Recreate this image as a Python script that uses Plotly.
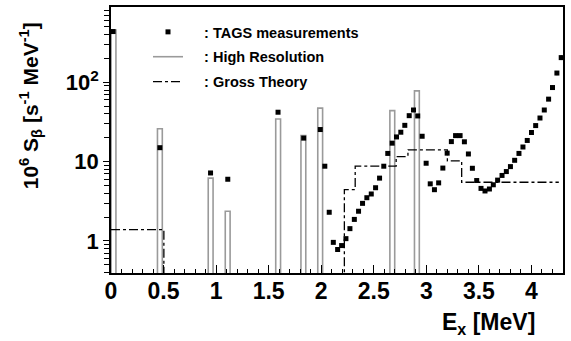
import plotly.graph_objects as go

# ---- data ----
tags_x = [0.02, 0.465, 0.947, 1.111, 1.589, 1.833, 1.991, 2.034, 2.076, 2.115, 2.156, 2.194, 2.235,
          2.273, 2.315, 2.355, 2.393, 2.434, 2.476, 2.517, 2.555, 2.595, 2.633, 2.675, 2.716,
          2.757, 2.795, 2.837, 2.878, 2.918, 2.96, 2.998, 3.037, 3.077, 3.117, 3.157, 3.198,
          3.238, 3.278, 3.321, 3.362, 3.40, 3.438, 3.479, 3.52, 3.558, 3.60, 3.637, 3.678,
          3.72, 3.761, 3.80, 3.84, 3.881, 3.919, 3.96, 4.0, 4.04, 4.081, 4.122, 4.163, 4.20,
          4.242, 4.283]
tags_y = [437, 15.0, 7.2, 6.0, 42.0, 19.8, 25.4, 8.76, 2.30, 0.96, 0.78, 0.875, 1.07,
          1.43, 1.87, 2.37, 2.98, 3.51, 3.91, 4.69, 6.2, 8.76, 12.7, 17.1, 20.5,
          23.5, 28.7, 38.0, 44.8, 37.7, 20.9, 9.55, 5.25, 4.43, 5.4, 8.3, 12.8,
          17.9, 21.3, 21.3, 17.8, 12.5, 8.25, 5.78, 4.6, 4.27, 4.52, 5.11, 5.85,
          6.7, 7.5, 8.66, 10.4, 12.7, 15.3, 18.5, 23.3, 28.5, 35.5, 44.8, 61.4, 86,
          131, 205]
tags_err = [0]*56 + [1.0, 1.3, 1.7, 2.2, 3.2, 4.8, 8, 14]

hr_x = [0.024, 0.465, 0.948, 1.11, 1.59, 1.83, 1.99, 2.676, 2.91]
hr_y = [456, 26, 6.2, 2.37, 34.5, 21.4, 47.3, 44, 78]

gt_edges = [0, 0.503, 2.22, 2.323, 2.713, 2.825, 3.2, 3.336, 4.26]
gt_vals = [1.39, 0.1, 4.43, 8.76, 11.6, 14.1, 10.2, 5.5]

x_ticks = [0, 0.5, 1, 1.5, 2, 2.5, 3, 3.5, 4]
x_ticktext = ["0", "0.5", "1", "1.5", "2", "2.5", "3", "3.5", "4"]
y_ticks = [1, 10, 100]
y_ticktext = ["1", "10", "10<sup>2</sup>"]

FONT = "Liberation Sans, Arial, Helvetica, sans-serif"
NB = "\u00a0\u00a0\u00a0\u00a0"

fig = go.Figure()

fig.add_trace(go.Bar(
    x=hr_x, y=hr_y, width=0.046,
    marker=dict(color="rgba(0,0,0,0)", line=dict(color="#9a9a9a", width=1.6)),
    name=NB + ": High Resolution", legendgroup="b", legendrank=2, showlegend=False,
))
# legend proxy for high-resolution (line symbol)
fig.add_trace(go.Scatter(
    x=[None], y=[None], mode="lines", line=dict(color="#9a9a9a", width=1.6),
    name=NB + ": High Resolution", legendgroup="b", legendrank=2,
))

gx = list(gt_edges)
gy = list(gt_vals) + [gt_vals[-1]]
fig.add_trace(go.Scatter(
    x=gx, y=gy, mode="lines", line=dict(color="black", width=1.3, dash="dashdot", shape="hv"),
    name=NB + ": Gross Theory", legendgroup="c", legendrank=3,
))

fig.add_trace(go.Scatter(
    x=tags_x, y=tags_y, mode="markers",
    marker=dict(symbol="square", size=5, color="black"),
    error_y=dict(type="data", array=tags_err, color="black", thickness=1, width=0),
    name=NB + ": TAGS measurements", legendgroup="a", legendrank=1,
))

minor_vals = []
for dec in [0.1, 1, 10, 100]:
    for k in range(2, 10):
        v = k * dec
        if 0.39 <= v <= 900:
            minor_vals.append(v)

fig.update_layout(
    width=571, height=341,
    margin=dict(l=111, r=8, t=5, b=68),
    paper_bgcolor="white", plot_bgcolor="white",
    font=dict(family=FONT, color="black"),
    barmode="overlay",
    showlegend=True,
    legend=dict(
        x=(148 - 111) / 452, y=1 - (14 - 5) / 268, xanchor="left", yanchor="top",
        bgcolor="rgba(0,0,0,0)", font=dict(size=14.5, family=FONT, weight="bold"),
        traceorder="grouped", tracegroupgap=3, itemwidth=30,
    ),
    xaxis=dict(
        range=[0, 4.3], showgrid=False, zeroline=False,
        showline=True, linecolor="black", linewidth=1.5, mirror=True,
        ticks="inside", ticklen=8, tickwidth=1, tickcolor="black",
        tickvals=x_ticks, ticktext=x_ticktext, ticklabelstandoff=-3,
        tickfont=dict(size=23, family=FONT, weight="bold"),
        minor=dict(ticks="inside", ticklen=4, dtick=0.1, tick0=0, tickcolor="black", showgrid=False),
    ),
    yaxis=dict(
        type="log", range=[-0.404, 2.95], showgrid=False, zeroline=False,
        showline=True, linecolor="black", linewidth=1.5, mirror=True,
        ticks="outside", ticklen=6, tickwidth=1, tickcolor="black",
        tickvals=y_ticks, ticktext=y_ticktext,
        tickfont=dict(size=22, family=FONT, weight="bold"),
        minor=dict(ticks="outside", ticklen=5, tickvals=minor_vals, tickcolor="black", showgrid=False),
    ),
    annotations=[
        dict(text="10<sup>6</sup> S<sub>β</sub> [s<sup>-1</sup> MeV<sup>-1</sup>]",
             xref="paper", yref="paper", x=(30 - 111) / 452, y=(273 - 105) / 268,
             xanchor="center", yanchor="middle", textangle=-90, showarrow=False,
             font=dict(size=21, family=FONT, weight="bold")),
        dict(text="E<sub>x</sub> [MeV]", xref="paper", yref="paper",
             x=(537 - 111) / 452, y=(273 - 324) / 268, xanchor="right", yanchor="middle",
             showarrow=False, font=dict(size=23, family=FONT, weight="bold")),
    ],
)

fig.write_html("out.html")
